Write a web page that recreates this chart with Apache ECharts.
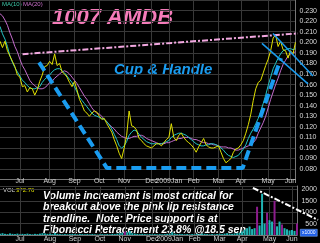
<!DOCTYPE html>
<html>
<head>
<meta charset="utf-8">
<script src="https://cdn.jsdelivr.net/npm/echarts@6/dist/echarts.min.js"></script>
<style>
html,body{margin:0;padding:0;background:#000;}
#chart{width:320px;height:243px;}
</style>
</head>
<body>
<div id="chart"></div>
<script>
// month ticks (index of first sample in each month)
const monthNames = ['Jul', 'Aug', 'Sep', 'Oct', 'Nov', 'Dec', '2009Jan', 'Feb', 'Mar', 'Apr', 'May', 'Jun'];
const monthStart = [8, 20, 30, 40, 50, 61, 68, 78, 88, 97, 108, 117];

// price samples, Jun 2008 - Jun 2009
const price = [
  0.201, 0.195, 0.201, 0.192, 0.187, 0.182, 0.177, 0.169, 0.167, 0.158,
  0.159, 0.153, 0.157, 0.156, 0.150, 0.155, 0.163, 0.169, 0.177, 0.178,
  0.182, 0.179, 0.189, 0.178, 0.180, 0.172, 0.170, 0.167, 0.162, 0.158,
  0.163, 0.155, 0.146, 0.141, 0.135, 0.133, 0.130, 0.133, 0.135, 0.134,
  0.130, 0.127, 0.128, 0.123, 0.119, 0.115, 0.108, 0.102, 0.095, 0.090,
  0.100, 0.112, 0.135, 0.121, 0.120, 0.117, 0.109, 0.107, 0.104, 0.102,
  0.101, 0.100, 0.102, 0.104, 0.104, 0.102, 0.105, 0.108, 0.110, 0.123,
  0.110, 0.107, 0.112, 0.114, 0.110, 0.107, 0.105, 0.103, 0.100, 0.096,
  0.101, 0.105, 0.109, 0.103, 0.101, 0.100, 0.100, 0.101, 0.102, 0.096,
  0.090, 0.086, 0.088, 0.090, 0.096, 0.099, 0.100, 0.103, 0.107, 0.114,
  0.122, 0.132, 0.145, 0.156, 0.162, 0.164, 0.171, 0.178, 0.184, 0.192,
  0.204, 0.207, 0.196, 0.201, 0.193, 0.192, 0.185, 0.192, 0.189, 0.200
];
const ma10 = [
  0.215, 0.208, 0.203, 0.196, 0.187, 0.181, 0.176, 0.172, 0.168, 0.164,
  0.162, 0.159, 0.157, 0.156, 0.156, 0.157, 0.158, 0.162, 0.165, 0.167,
  0.169, 0.172, 0.174, 0.175, 0.175, 0.173, 0.171, 0.168, 0.165, 0.162,
  0.158, 0.153, 0.148, 0.145, 0.142, 0.139, 0.136, 0.133, 0.131, 0.130,
  0.129, 0.128, 0.127, 0.125, 0.122, 0.118, 0.113, 0.108, 0.102, 0.100,
  0.102, 0.106, 0.112, 0.115, 0.117, 0.116, 0.113, 0.110, 0.108, 0.106,
  0.105, 0.104, 0.104, 0.104, 0.104, 0.104, 0.105, 0.106, 0.107, 0.110,
  0.112, 0.113, 0.114, 0.114, 0.113, 0.112, 0.110, 0.108, 0.106, 0.104,
  0.103, 0.102, 0.102, 0.103, 0.103, 0.104, 0.104, 0.103, 0.102, 0.100,
  0.098, 0.095, 0.093, 0.092, 0.091, 0.092, 0.093, 0.096, 0.099, 0.103,
  0.109, 0.114, 0.118, 0.123, 0.128, 0.135, 0.142, 0.150, 0.159, 0.167,
  0.175, 0.180, 0.185, 0.189, 0.192, 0.193, 0.194, 0.194, 0.193, 0.194
];
const ma20 = [
  0.227, 0.225, 0.221, 0.216, 0.209, 0.203, 0.196, 0.191, 0.184, 0.178,
  0.174, 0.169, 0.164, 0.161, 0.159, 0.157, 0.156, 0.156, 0.157, 0.159,
  0.162, 0.163, 0.166, 0.168, 0.170, 0.172, 0.173, 0.172, 0.170, 0.167,
  0.164, 0.161, 0.157, 0.153, 0.149, 0.146, 0.142, 0.138, 0.135, 0.133,
  0.132, 0.130, 0.127, 0.125, 0.122, 0.120, 0.118, 0.115, 0.113, 0.111,
  0.110, 0.109, 0.109, 0.110, 0.111, 0.111, 0.112, 0.112, 0.111, 0.109,
  0.108, 0.107, 0.106, 0.105, 0.104, 0.104, 0.104, 0.105, 0.105, 0.106,
  0.107, 0.108, 0.109, 0.109, 0.110, 0.110, 0.110, 0.109, 0.108, 0.108,
  0.107, 0.106, 0.105, 0.105, 0.104, 0.104, 0.103, 0.103, 0.102, 0.101,
  0.101, 0.101, 0.100, 0.100, 0.099, 0.098, 0.098, 0.099, 0.100, 0.101,
  0.102, 0.103, 0.105, 0.108, 0.114, 0.119, 0.124, 0.130, 0.138, 0.146,
  0.153, 0.160, 0.166, 0.173, 0.179, 0.183, 0.187, 0.189, 0.190, 0.191
];
const volume = [
  60, 80, 50, 40, 70, 50, 40, 60, 30, 50,
  40, 60, 40, 30, 50, 40, 60, 80, 70, 50,
  60, 40, 90, 50, 40, 30, 40, 30, 40, 50,
  40, 30, 50, 40, 30, 40, 30, 40, 30, 20,
  30, 40, 30, 40, 30, 50, 40, 60, 80, 100,
  150, 120, 180, 80, 60, 50, 40, 50, 40, 30,
  40, 30, 40, 30, 40, 30, 40, 50, 60, 120,
  60, 40, 50, 40, 30, 40, 30, 40, 30, 50,
  40, 60, 50, 40, 30, 40, 30, 40, 50, 40,
  60, 80, 60, 50, 70, 80, 100, 150, 240, 300,
  370, 260, 300, 1240, 420, 1810, 500, 980, 650, 590,
  1500, 380, 590, 460, 300, 250, 200, 220, 180, 500
];
const volDown = [50, 103, 107, 110, 113, 119];
const lastPrice = 0.200;
const lastVol = '372.76';

// hand drawn annotations, [sample index, value]
const resistLine = [[9, 0.1887], [119, 0.2084]];
const cupLine = [[15.6, 0.181], [42.7, 0.081], [96.9, 0.081], [112.2, 0.185]];
const handleTop = [[109, 0.2084], [125, 0.168]];
const handleBottom = [[104.6, 0.199], [123, 0.1606]];
const volTrend = [[101, 2070], [127, 675]];

const cats = price.map((v, i) => String(i));
const isMonth = (i) => monthStart.indexOf(i) >= 0;
const font = 'Liberation Sans';
const gridColor = '#383838';

const chart = echarts.init(document.getElementById('chart'));

function monthAxis(grid, margin) {
  return {
    type: 'category',
    gridIndex: grid,
    data: cats,
    boundaryGap: false,
    axisLine: { lineStyle: { color: '#777' } },
    axisTick: { show: false },
    axisLabel: {
      interval: (i) => isMonth(i),
      formatter: (v, i) => monthNames[monthStart.indexOf(i)] || '',
      color: '#d0d0d0',
      fontSize: 7,
      fontFamily: font,
      margin: margin
    },
    splitLine: { show: true, interval: (i) => isMonth(i), lineStyle: { color: gridColor } }
  };
}

function annot(data, color, width, type, xi, yi) {
  return {
    type: 'line',
    xAxisIndex: xi,
    yAxisIndex: yi,
    data: data,
    symbol: 'none',
    silent: true,
    z: 5,
    lineStyle: { color: color, width: width, type: type }
  };
}

chart.setOption({
  backgroundColor: '#000',
  animation: false,
  grid: [
    { left: 0, right: 22, top: -1.7, height: 181.4 },
    { left: 0, right: 22, top: 186, height: 49.5 },
    { left: 0, right: 0, top: -1.7, height: 181.4 },
    { left: 0, right: 0, top: 186, height: 49.5 }
  ],
  xAxis: [
    monthAxis(0, -2),
    monthAxis(1, 1),
    { type: 'value', gridIndex: 2, min: 0, max: 119 * 320 / 298, show: false },
    { type: 'value', gridIndex: 3, min: 0, max: 119 * 320 / 298, show: false }
  ],
  yAxis: [
    {
      type: 'value', gridIndex: 0, position: 'right',
      min: 0.07, max: 0.24, interval: 0.01,
      axisLine: { show: true, lineStyle: { color: '#777' } },
      axisTick: { show: false },
      axisLabel: {
        color: '#d8d8d8', fontSize: 7, fontFamily: font, margin: 4,
        formatter: (v) => (v < 0.075 || v > 0.235) ? '' : v.toFixed(3)
      },
      splitLine: { lineStyle: { color: gridColor } }
    },
    {
      type: 'value', gridIndex: 1, position: 'right',
      min: 0, max: 2150, interval: 500,
      axisLine: { show: true, lineStyle: { color: '#777' } },
      axisTick: { show: false },
      axisLabel: {
        color: '#d8d8d8', fontSize: 7, fontFamily: font, margin: 20, align: 'right',
        formatter: (v) => (v === 0 || v % 500) ? '' : String(v)
      },
      splitLine: { lineStyle: { color: gridColor } }
    },
    { type: 'value', gridIndex: 2, min: 0.07, max: 0.24, show: false },
    { type: 'value', gridIndex: 3, min: 0, max: 2150, show: false }
  ],
  series: [
    {
      name: 'MA(20)', type: 'line', data: ma20, symbol: 'none',
      lineStyle: { color: '#c46ccc', width: 1 }
    },
    {
      name: 'MA(10)', type: 'line', data: ma10, symbol: 'none',
      lineStyle: { color: '#22c4c4', width: 1 }
    },
    {
      name: 'Price', type: 'line', data: price, symbol: 'none',
      lineStyle: { color: '#e0e000', width: 1 },
      markLine: {
        symbol: 'none', silent: true,
        lineStyle: { opacity: 0 },
        data: [{ yAxis: lastPrice }],
        label: {
          position: 'end', distance: 2,
          formatter: lastPrice.toFixed(3),
          backgroundColor: '#9b6cc6', color: '#fff',
          fontSize: 7, fontFamily: font, padding: [1, 1]
        }
      }
    },
    {
      name: 'VOL', type: 'bar', xAxisIndex: 1, yAxisIndex: 1, barWidth: 2,
      data: volume.map((v, i) => ({
        value: v,
        itemStyle: { color: volDown.indexOf(i) >= 0 ? '#8c1c8c' : '#1fb4b4' }
      }))
    },
    annot(resistLine, '#f2a8e0', 2, [6, 2, 2, 2], 2, 2),
    annot(cupLine, '#1a9cf0', 4, [10, 5], 2, 2),
    annot(handleTop, '#1a9cf0', 1.5, 'solid', 2, 2),
    annot(handleBottom, '#1a9cf0', 1.5, 'solid', 2, 2),
    annot(volTrend, '#ffffff', 2, [6, 2, 2, 2], 3, 3)
  ],
  graphic: [
    { type: 'text', left: 2, top: 1, style: { text: 'MA(10)', fill: '#3cc8a8', font: '6px "Liberation Sans"' } },
    { type: 'text', left: 23, top: 1, style: { text: 'MA(20)', fill: '#cc70cc', font: '6px "Liberation Sans"' } },
    { type: 'text', left: 52, top: 7, style: { text: '1007 AMDB', fill: '#f57cba', font: 'italic bold 22px "Liberation Sans"' } },
    { type: 'text', left: 114, top: 62, style: { text: 'Cup & Handle', fill: '#1a9cf0', font: 'italic bold 15px "Liberation Sans"' } },
    { type: 'text', left: 3, top: 187, style: { text: 'VOL', fill: '#ddd', font: '6px "Liberation Sans"' } },
    { type: 'text', left: 16, top: 187, style: { text: lastVol, fill: '#e0e000', font: '6px "Liberation Sans"' } },
    {
      type: 'text', left: 43, top: 190,
      style: {
        text: 'Volume increament is most critical for\nbreakout above the pink lip resistance\ntrendline.  Note: Price support is at\nFibonacci Retracement 23.8% @18.5 sen',
        fill: '#fff', font: 'italic bold 10.5px "Liberation Sans"', lineHeight: 11.6
      }
    },
    {
      type: 'group', left: 300, top: 229,
      children: [
        { type: 'rect', shape: { x: 0, y: 0, width: 17, height: 7 }, style: { fill: '#1f5ee8', stroke: '#8ab8ff', lineWidth: 0.5 } },
        { type: 'text', x: 8.5, y: 3.5, style: { text: 'x1000', fill: '#fff', font: '5px "Liberation Sans"', align: 'center', verticalAlign: 'middle' } }
      ]
    }
  ]
});
</script>
</body>
</html>
